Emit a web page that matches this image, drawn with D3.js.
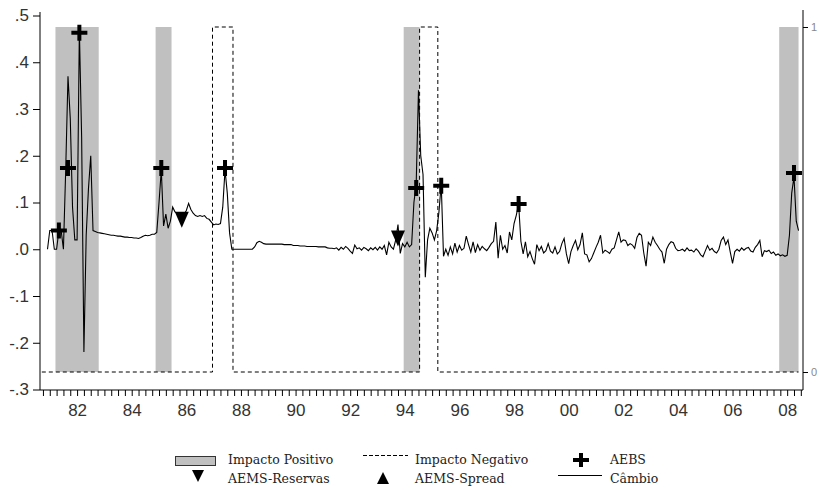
<!DOCTYPE html>
<html>
<head>
<meta charset="utf-8">
<script src="https://d3js.org/d3.v7.min.js"></script>
<style>
  body { margin: 0; background: #fff; }
  svg { display: block; }
  .tick text { font-family: "Liberation Sans", Arial, sans-serif; }
</style>
</head>
<body>
<div id="container"></div>
<script>
// monthly series, first observation = June 1981
var startYear = 1981;
var startMonth = 6;

var cambio = [
  0, 0.04, 0.04, 0, 0, 0.04, 0.04, 0, 0.17, 0.37,
  0.28, 0.09, 0.02, 0.02, 0.47, 0.24, -0.22, 0.03, 0.13, 0.20,
  0.04, 0.038, 0.036, 0.035, 0.034, 0.033, 0.032, 0.031, 0.03, 0.03,
  0.029, 0.028, 0.028, 0.027, 0.026, 0.026, 0.025, 0.025, 0.024, 0.024,
  0.023, 0.025, 0.028, 0.03, 0.029, 0.03, 0.032, 0.032, 0.036, 0.1,
  0.17, 0.05, 0.075, 0.045, 0.06, 0.09, 0.08, 0.077, 0.07, 0.065,
  0.075, 0.083, 0.098, 0.085, 0.077, 0.072, 0.07, 0.072, 0.07, 0.072,
  0.066, 0.064, 0.058, 0.052, 0.054, 0.053, 0.055, 0.09, 0.17, 0.12,
  0.035, 0, 0, 0, 0, 0, 0, 0, 0, 0,
  0, 0.005, 0.014, 0.017, 0.015, 0.012, 0.011, 0.011, 0.011, 0.011,
  0.011, 0.011, 0.011, 0.011, 0.01, 0.01, 0.01, 0.01, 0.008, 0.008,
  0.008, 0.007, 0.007, 0.007, 0.006, 0.006, 0.006, 0.006, 0.006, 0.005,
  0.005, 0.005, 0.005, 0.003, 0.002, 0.002, 0.001, 0.003, -0.002, 0.004,
  0.0, 0.006, 0.002, -0.004, -0.009, 0.009, 0.001, 0.003, -0.002, 0.004,
  0.001, -0.003, 0.003, -0.001, 0.004, -0.002, 0.005, 0.0, 0.008, -0.012,
  0.015, 0.005, 0.0, 0.02, 0.053, -0.009, 0.012, 0.005, 0.015, 0.005,
  0.01, 0.1, 0.14, 0.34, 0.2, 0.16, -0.06, 0.02, 0.045, 0.035,
  0.02, 0.04, 0.08, 0.14, -0.015, 0.0, -0.013, 0.005, -0.01, 0.013,
  -0.006, 0.008, -0.002, 0.002, 0.028, 0.01, -0.006, 0.016, -0.007, 0.01,
  -0.002, 0.006, 0.001, -0.003, 0.004, 0.012, 0.017, 0.058, -0.019, 0.03,
  0.0, 0.008, -0.008, 0.037, 0.02, 0.055, 0.073, 0.097, 0.017, -0.01,
  0.016, -0.016, -0.005, -0.02, -0.032, 0.01, -0.003, 0.006, -0.008, -0.003,
  0.012, -0.004, -0.008, 0.005, -0.01, -0.005, 0.012, 0.023, -0.01, -0.031,
  -0.005, 0.008, 0.019, -0.001, 0.01, 0.035, -0.01, -0.012, -0.027, -0.02,
  -0.008, 0.004, 0.015, 0.03, -0.008, -0.002, -0.005, -0.009, 0.0, 0.003,
  0.02, 0.037, 0.015, 0.02, 0.019, 0.008, 0.012, 0.009, 0.002, 0.025,
  0.034, 0.03, -0.008, -0.036, 0.015, 0.008, 0.026, 0.015, 0.008, 0.0,
  -0.006, -0.03, 0.0, 0.01, 0.016, 0.014, 0.002, -0.003, -0.002, 0.0,
  -0.004, 0.003, -0.003, -0.002, -0.006, 0.001, -0.004, -0.012, -0.016, -0.004,
  0.008, -0.002, 0.002, -0.005, -0.008, 0.0, 0.019, 0.026, 0.01, 0.02,
  -0.006, -0.03, -0.005, 0.0, -0.004, 0.003, -0.002, 0.002, 0.004, -0.004,
  -0.006, 0.004, 0.01, 0.019, -0.016, -0.003, -0.005, -0.002, -0.009, -0.006,
  -0.013, -0.01, -0.014, -0.012, -0.015, -0.013, 0.03, 0.12, 0.155, 0.06,
  0.04
];

// AEBS signals (month index into the series, value)
var aebsMonth = [5, 9, 14, 50, 78, 162, 173, 207, 328];
var aebsValue = [0.04, 0.174, 0.463, 0.174, 0.174, 0.131, 0.136, 0.097, 0.163];

// AEMS-Reservas signals
var reservasMonth = [59, 154];
var reservasValue = [0.063, 0.023];

// AEMS-Spread signals (none fall inside the sample)
var spreadMonth = [];
var spreadValue = [];

// impacto positivo / negativo periods (month indexes, inclusive)
var posFrom = [4, 48, 157, 322];
var posTo   = [22, 54, 163, 330];
var negFrom = [73, 164];
var negTo   = [81, 171];

var leftTicks = [-0.3, -0.2, -0.1, 0, 0.1, 0.2, 0.3, 0.4, 0.5];
var rightTicks = [0, 1];
var yearLabels = d3.range(1982, 2009, 2);

function toYear(m) {
  return startYear + (startMonth - 1 + m) / 12;
}

var width = 819, height = 490;
var last = cambio.length - 1;

var svg = d3.select('#container').append('svg')
  .attr('width', width)
  .attr('height', height);

var x = d3.scaleLinear().domain([1981.142, 2009.08]).range([40, 803]);
var y = d3.scaleLinear().domain([-0.3, 0.5]).range([389.5, 15.5]);
var yR = d3.scaleLinear().domain([0, 1]).range([372, 27]);

// ===== shaded periods (right scale 0..1)
svg.append('g').selectAll('rect')
  .data(posFrom.map(function(f, i) { return { from: f, to: posTo[i] }; }))
  .enter().append('rect')
  .attr('x', function(d) { return x(toYear(d.from - 0.5)); })
  .attr('width', function(d) {
    return x(toYear(Math.min(d.to + 0.5, last))) - x(toYear(d.from - 0.5));
  })
  .attr('y', yR(1))
  .attr('height', yR(0) - yR(1))
  .attr('fill', '#c0c0c0');

// ===== impacto negativo as a step line
var negPts = [[toYear(-2.5), 0]];
negFrom.forEach(function(f, i) {
  negPts.push([toYear(f - 0.5), 0], [toYear(f - 0.5), 1],
              [toYear(negTo[i] + 0.5), 1], [toYear(negTo[i] + 0.5), 0]);
});
negPts.push([toYear(last), 0]);

svg.append('path')
  .datum(negPts)
  .attr('fill', 'none')
  .attr('stroke', '#000')
  .attr('stroke-width', 1)
  .attr('stroke-dasharray', '4,3')
  .attr('d', d3.line()
    .x(function(d) { return x(d[0]); })
    .y(function(d) { return yR(d[1]); }));

// ===== cambio series
svg.append('path')
  .datum(cambio)
  .attr('fill', 'none')
  .attr('stroke', '#000')
  .attr('stroke-width', 1.1)
  .attr('d', d3.line()
    .x(function(d, i) { return x(toYear(i)); })
    .y(function(d) { return y(d); }));

// ===== markers
var plusPath = 'M-8,0H8M0,-8V8';
var downTri = 'M-7,-8L7,-8L0,8Z';
var upTri = 'M-7,8L7,8L0,-8Z';

svg.append('g').selectAll('path')
  .data(aebsMonth)
  .enter().append('path')
  .attr('transform', function(d, i) {
    return 'translate(' + x(toYear(d)) + ',' + y(aebsValue[i]) + ')';
  })
  .attr('d', plusPath)
  .attr('stroke', '#000')
  .attr('stroke-width', 4);

svg.append('g').selectAll('path')
  .data(reservasMonth)
  .enter().append('path')
  .attr('transform', function(d, i) {
    return 'translate(' + x(toYear(d)) + ',' + y(reservasValue[i]) + ')';
  })
  .attr('d', downTri)
  .attr('fill', '#000');

svg.append('g').selectAll('path')
  .data(spreadMonth)
  .enter().append('path')
  .attr('transform', function(d, i) {
    return 'translate(' + x(toYear(d)) + ',' + y(spreadValue[i]) + ')';
  })
  .attr('d', upTri)
  .attr('fill', '#000');

// ===== axes
var fmt = d3.format('.1f');
var leftAxis = svg.append('g')
  .attr('transform', 'translate(40,0)')
  .call(d3.axisLeft(y).tickValues(leftTicks).tickSize(7).tickPadding(4)
    .tickFormat(function(d) { return fmt(d).replace('\u2212', '-').replace('0.', '.'); }));
leftAxis.select('.domain').remove();
leftAxis.selectAll('text').attr('font-size', 17).attr('fill', '#333');

svg.append('line')
  .attr('x1', 40).attr('x2', 40).attr('y1', 12).attr('y2', 390)
  .attr('stroke', '#000');

var rightAxis = svg.append('g')
  .attr('transform', 'translate(803,0)')
  .call(d3.axisRight(yR).tickValues(rightTicks).tickSize(5).tickPadding(3)
    .tickFormat(d3.format('d')));
rightAxis.select('.domain').remove();
rightAxis.selectAll('text').attr('font-size', 11).attr('fill', '#888');

svg.append('line')
  .attr('x1', 803).attr('x2', 803).attr('y1', 10).attr('y2', 390)
  .attr('stroke', '#000');

// quarterly ticks
var quarters = d3.range(1981.25, 2009.01, 0.25);
var bottomTicks = svg.append('g')
  .attr('transform', 'translate(0,390)')
  .call(d3.axisBottom(x).tickValues(quarters).tickSize(6).tickFormat(''));
bottomTicks.select('.domain').remove();

var bottomLabels = svg.append('g')
  .attr('transform', 'translate(0,390)')
  .call(d3.axisBottom(x).tickValues(yearLabels.map(function(v) { return v + 0.5; }))
    .tickSize(0).tickPadding(14)
    .tickFormat(function(d) { return String(Math.floor(d)).slice(2); }));
bottomLabels.select('.domain').remove();
bottomLabels.selectAll('text').attr('font-size', 17).attr('fill', '#333');

svg.append('line')
  .attr('x1', 40).attr('x2', 803).attr('y1', 390).attr('y2', 390)
  .attr('stroke', '#000');

// ===== legend
var lg = svg.append('g')
  .attr('font-family', '"DejaVu Serif", "Liberation Serif", serif')
  .attr('font-size', 12.5)
  .attr('fill', '#222');

lg.append('rect')
  .attr('x', 175.5).attr('y', 456.5).attr('width', 40).attr('height', 9)
  .attr('fill', '#c0c0c0').attr('stroke', '#333');
lg.append('path').attr('d', 'M192,470L204,470L198,482Z').attr('fill', '#000');
lg.append('text').attr('x', 228).attr('y', 464).text('Impacto Positivo');
lg.append('text').attr('x', 228).attr('y', 483).text('AEMS-Reservas');

lg.append('line')
  .attr('x1', 363).attr('x2', 408).attr('y1', 455.5).attr('y2', 455.5)
  .attr('stroke', '#000').attr('stroke-dasharray', '4,2');
lg.append('path').attr('d', 'M377,484L389,484L383,472Z').attr('fill', '#000');
lg.append('text').attr('x', 415).attr('y', 464).text('Impacto Negativo');
lg.append('text').attr('x', 415).attr('y', 483).text('AEMS-Spread');

lg.append('path').attr('d', 'M573,460H589M581,453V467')
  .attr('stroke', '#000').attr('stroke-width', 4);
lg.append('line')
  .attr('x1', 558).attr('x2', 602).attr('y1', 475.5).attr('y2', 475.5)
  .attr('stroke', '#000');
lg.append('text').attr('x', 610).attr('y', 464).text('AEBS');
lg.append('text').attr('x', 610).attr('y', 483).text('Câmbio');
</script>
</body>
</html>
